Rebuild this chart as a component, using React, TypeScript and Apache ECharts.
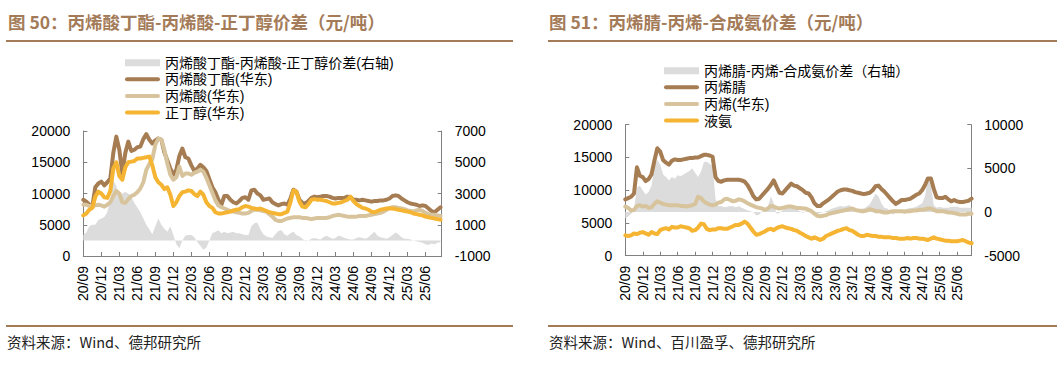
import React, { useEffect, useRef } from 'react';
import * as echarts from 'echarts';

// x tick labels (quarterly, starting 2020-09)
const X_LABELS = ['20/09', '20/12', '21/03', '21/06', '21/09', '21/12', '22/03', '22/06', '22/09', '22/12', '23/03', '23/06', '23/09', '23/12', '24/03', '24/06', '24/09', '24/12', '25/03', '25/06'];
// sampling step: half a month, in months since 2020-09
const STEP = 0.5;

// ---- Chart 50 ----
const baPrice = [
  9000, 8700, 8200, 7900, 11000, 11600, 11900, 11300, 11800, 12400,
  16500, 19100, 17000, 13200, 16500, 18300, 16800, 17000, 17400, 17500,
  18700, 19500, 18600, 18000, 18500, 18800, 18600, 16600, 15300, 14000,
  13000, 13800, 16000, 17200, 15800, 15600, 14500, 13600, 14000, 14600,
  14200, 13600, 12300, 11000, 10200, 9000, 8200, 9600, 9600, 9000,
  8600, 8400, 8800, 9300, 9400, 9000, 10500, 10600, 10000, 9700,
  9000, 9100, 9200, 8600, 8300, 8100, 8300, 8400, 8200, 9200,
  10600, 10300, 9000, 8500, 8400, 8800, 9300, 9500, 9400, 9500,
  9600, 9600, 9500, 9300, 9200, 9300, 9300, 9300, 9500, 9400,
  9000, 9000, 8900, 9000, 8900, 8800, 8700, 8800, 8800, 8900,
  8900, 9000, 9200, 9600, 9700, 9600, 9200, 8900, 8600, 8400,
  8300, 8200, 8000, 8100, 8000, 7600, 7200, 7000, 7400, 7800,
];
const aaPrice = [
  8200, 8200, 8000, 8000, 8100, 8200, 8100, 7900, 8200, 8600,
  9600, 10400, 10000, 8600, 8500, 9100, 9600, 9800, 10200, 10800,
  11800, 13800, 14700, 15500, 17800, 18800, 18600, 17000, 14800, 13000,
  12200, 12600, 14300, 12800, 13200, 13200, 13000, 13300, 13500, 13800,
  13500, 12500, 11300, 10100, 8900, 8100, 7800, 7600, 7400, 7200,
  7100, 7000, 6900, 6800, 6800, 6900, 7200, 7400, 7400, 7300,
  7200, 7100, 6700, 6300, 5800, 5600, 5600, 5800, 6000, 6100,
  6200, 6200, 6200, 6100, 6100, 6000, 5900, 6000, 6100, 6100,
  6100, 6100, 6200, 6400, 6500, 6600, 6500, 6400, 6300, 6300,
  6300, 6300, 6400, 6400, 6400, 6500, 6600, 6700, 6800, 6900,
  7100, 7400, 7700, 7800, 7800, 7700, 7600, 7500, 7300, 7200,
  7100, 7300, 7400, 7200, 6900, 6700, 6600, 6600, 6500, 6400,
];
const nbaPrice = [
  6500, 6800, 7400, 7700, 9500, 10300, 10000, 9400, 9300, 10400,
  14000, 15000, 12800, 12200, 14200, 15000, 15100, 15200, 15600, 15600,
  15700, 15800, 15900, 14500, 12600, 11800, 11400, 10700, 11000, 9800,
  8000, 8600, 9600, 10200, 10300, 10500, 10400, 9900, 9600, 10300,
  9800, 8600, 8000, 7700, 7000, 6800, 6800, 6900, 7000, 7100,
  7300, 7400, 7500, 7800, 8000, 7900, 7700, 7600, 7500, 7600,
  7400, 7200, 7000, 6900, 6800, 6700, 6700, 6900, 7100, 8600,
  10500, 10300, 8700, 7900, 7800, 8300, 9000, 9100, 9000, 9000,
  8900, 8800, 8600, 8400, 8400, 8500, 8600, 8800, 9000, 9500,
  8800, 8300, 8000, 7700, 7600, 7400, 7100, 7000, 7200, 7400,
  7500, 7600, 7600, 7600, 7500, 7400, 7300, 7200, 7100, 7000,
  6800, 6700, 6600, 6500, 6300, 6200, 6100, 6000, 5900, 5800,
];
const baSpread = [
  340, 500, 900, 1000, 1000, 1300, 1400, 1500, 1800, 2600,
  3800, 3500, 2600, 3000, 3100, 3000, 2800, 2400, 2100, 1800,
  1400, 1000, 700, 400, 900, 1400, 1000, 750, 550, 900,
  350, -250, -500, 0, 300, 350, 350, 200, -100, -350,
  -600, -450, 0, 450, 550, 650, 450, 550, 450, 500,
  550, 450, 450, 400, 350, 350, 900, 1100, 1150, 700,
  400, 250, 200, 150, 400, 600, 650, 400, 300, 450,
  550, 350, 250, 100, -50, 0, 100, 150, 100, 50,
  200, 300, 200, 100, 150, 300, 250, 150, 100, 50,
  50, 150, 200, 150, 100, 200, 400, 550, 300, 200,
  150, 100, 200, 350, 500, 400, 200, 100, 100, 50,
  0, -50, -100, -150, -250, -300, -200, -250, -150, -100,
];

// ---- Chart 51 ----
const anPrice = [
  8600, 8800, 9000, 9500, 13500, 12200, 12000, 11400, 11700, 12400,
  14500, 16400, 15900, 14600, 14200, 13900, 14500, 14700, 14600, 14600,
  14700, 14800, 14900, 14900, 15000, 15000, 15200, 15400, 15400, 15300,
  15100, 12000, 11400, 11300, 11500, 11600, 11600, 11600, 11600, 11600,
  11500, 11300, 10800, 10000, 9100, 8600, 8700, 9200, 9700, 10200,
  10800, 11500, 10500, 9600, 9500, 10000, 10500, 11000, 10700, 10600,
  10300, 10000, 9600, 9500, 8900, 8000, 7600, 7600, 8000, 8300,
  8600, 9000, 9400, 9800, 10000, 10100, 10100, 10000, 9900, 9700,
  9600, 9500, 9400, 9500, 9600, 10000, 10600, 10700, 10200, 9800,
  9300, 8800, 8300, 7900, 8200, 8500, 8500, 8600, 8700, 9000,
  9300, 9500, 10000, 10800, 11800, 11800, 10200, 8900, 8800, 8800,
  9000, 8600, 8300, 8500, 8300, 8200, 8200, 8300, 8400, 8700,
];
const propPrice = [
  7500, 7300, 6900, 7000, 7600, 7700, 7500, 7600, 7300, 7400,
  7900, 8300, 8100, 7900, 7800, 7700, 7700, 7700, 7700, 7600,
  7600, 7500, 7600, 7700, 7900, 9000, 8800, 8300, 8000, 7800,
  7700, 7800, 8100, 8200, 8600, 8700, 8500, 8300, 8400, 8600,
  8500, 8300, 8000, 7800, 7600, 7400, 7300, 7200, 7000, 7200,
  7600, 7500, 7300, 7200, 7300, 7400, 7500, 7500, 7400, 7300,
  7300, 7200, 7200, 7000, 6800, 6400, 6100, 6000, 6100, 6200,
  6400, 6500, 6600, 6700, 6800, 6900, 7000, 7100, 7200, 7000,
  6900, 6800, 6800, 6900, 7100, 7000, 6800, 6800, 6700, 6600,
  6600, 6700, 6800, 6800, 6800, 6800, 6700, 6800, 6800, 6900,
  6900, 7000, 7000, 7100, 7200, 7200, 7000, 6800, 6800, 6800,
  6700, 6600, 6600, 6500, 6400, 6300, 6300, 6300, 6400, 6400,
];
const ammoniaPrice = [
  3100, 3000, 3100, 3400, 3300, 3500, 3600, 3400, 3200, 3600,
  3400, 3300, 3900, 4100, 4200, 4000, 4400, 4300, 4300, 4500,
  4400, 4300, 4200, 3800, 3900, 4300, 4900, 4800, 4100, 3900,
  4000, 4000, 4200, 4200, 4100, 4100, 4300, 4500, 4700, 4700,
  4900, 5200, 4900, 4300, 3700, 3200, 3300, 3500, 3700, 4000,
  4100, 3900, 4200, 4400, 4500, 4300, 4200, 4100, 3900, 3800,
  3500, 3300, 3000, 2800, 2600, 2800, 2600, 2400, 2600, 3000,
  3200, 3400, 3600, 3800, 3900, 4100, 4200, 3900, 3800, 3500,
  3200, 3000, 3000, 3200, 3100, 3000, 3000, 2900, 2900, 2800,
  2800, 2800, 2700, 2700, 2600, 2600, 2600, 2700, 2600, 2700,
  2700, 2600, 2600, 2500, 2400, 2600, 2800, 2600, 2500, 2400,
  2300, 2300, 2200, 2200, 2200, 2300, 2400, 2200, 2000, 1900,
];
const anSpread = [
  -700, -500, -200, 300, 2800, 3000, 2500, 2000, 2300, 3000,
  5200, 6000, 5400, 4300, 4000, 3600, 4000, 3800, 4200, 4100,
  4300, 4500, 4700, 5000, 4500, 4000, 4600, 5700, 5800, 5500,
  5300, 1500, 650, 700, 550, 600, 700, 650, 550, 650,
  500, 350, 200, 100, 0, -400, -300, 100, 300, 600,
  1800, 1000, -200, -100, 200, 500, 700, 800, 500, 300,
  100, -100, 100, 200, -100, -300, -200, -100, 0, 100,
  200, 400, 500, 600, 700, 600, 700, 800, 500, 400,
  300, 400, 400, 600, 900, 1500, 2100, 1800, 1000, 500,
  400, 100, -300, 0, 200, 300, 300, 400, 450, 500,
  600, 800, 1000, 1800, 3900, 3000, 800, 500, 600, 500,
  500, 500, 600, 600, 600, 500, 500, 500, 500, 500,
];

const TITLE_LEFT = '图 50：丙烯酸丁酯-丙烯酸-正丁醇价差（元/吨）';
const TITLE_RIGHT = '图 51：丙烯腈-丙烯-合成氨价差（元/吨）';
const SOURCE_LEFT = '资料来源：Wind、德邦研究所';
const SOURCE_RIGHT = '资料来源：Wind、百川盈孚、德邦研究所';

const C_BROWN = '#a67c52';
const C_TAN = '#d8c49c';
const C_ORANGE = '#f5b431';
const C_GRAY = '#dcdcdc';
const C_TITLE = '#a47b58';
const C_AXIS = '#808080';
const NUM_FONT = '"Liberation Sans", Arial, sans-serif';
const CJK_FONT = '"Noto Sans CJK SC", sans-serif';
const LEGEND_FONT = '"Liberation Sans", "Noto Sans CJK SC", sans-serif';
const LINE_ICON = 'path://M2,0 L33,0 A2,2 0 0 1 33,4 L2,4 A2,2 0 0 1 2,0 Z';

const toXY = (arr: number[]) => arr.map((v, i) => [i * STEP, v]);

function xAxisOf(gridIndex: number, max: number) {
  return {
    type: 'value', gridIndex, min: 0, max, interval: 3,
    axisLine: { show: true, onZero: false, lineStyle: { color: C_AXIS, width: 1 } },
    axisTick: { show: true, inside: true, length: 4, lineStyle: { color: C_AXIS } },
    splitLine: { show: false },
    axisLabel: {
      rotate: 90, margin: 10, fontSize: 14, color: '#000', fontFamily: NUM_FONT,
      formatter: (v: number) => {
        const k = Math.round(v / 3);
        return Math.abs(v - k * 3) < 1e-6 && X_LABELS[k] ? X_LABELS[k] : '';
      },
    },
  };
}
function yAxisOf(gridIndex: number, position: string, min: number, max: number, interval: number) {
  return {
    type: 'value', gridIndex, position, min, max, interval,
    axisLine: { show: true, lineStyle: { color: C_AXIS, width: 1 } },
    axisTick: { show: true, inside: true, length: 4, lineStyle: { color: C_AXIS } },
    splitLine: { show: false },
    axisLabel: { margin: 13, fontSize: 14, color: '#000', fontFamily: NUM_FONT, formatter: (v: number) => String(v) },
  };
}
function lineSeries(name: string, data: number[], color: string, xAxisIndex: number, yAxisIndex: number) {
  return {
    type: 'line', name, data: toXY(data), xAxisIndex, yAxisIndex,
    symbol: 'none', showSymbol: false, color,
    lineStyle: { color, width: 4, cap: 'round', join: 'round' },
  };
}
function areaSeries(name: string, data: number[], xAxisIndex: number, yAxisIndex: number) {
  return {
    type: 'line', name, data: toXY(data), xAxisIndex, yAxisIndex,
    symbol: 'none', showSymbol: false, color: C_GRAY,
    lineStyle: { width: 0, color: C_GRAY },
    areaStyle: { color: C_GRAY, opacity: 1, origin: 0 },
  };
}
function legendOf(left: number, top: number, names: string[], colors: string[]) {
  return {
    orient: 'vertical', left, top, padding: 0, itemWidth: 35, itemHeight: 7, itemGap: 0,
    textStyle: { fontSize: 14, lineHeight: 16.6, color: '#000', fontFamily: LEGEND_FONT },
    data: names.map((n, i) => (i === 0
      ? { name: n, icon: 'rect', itemStyle: { color: colors[i] } }
      : { name: n, icon: LINE_ICON, itemStyle: { color: colors[i] } })),
  };
}

export default function App() {
  const ref = useRef<HTMLDivElement>(null);
  useEffect(() => {
    if (!ref.current) return;
    const chart = echarts.init(ref.current, undefined, { renderer: 'svg' });
    const L = ['丙烯酸丁酯-丙烯酸-正丁醇价差(右轴)', '丙烯酸丁酯(华东)', '丙烯酸(华东)', '正丁醇(华东)'];
    const R = ['丙烯腈-丙烯-合成氨价差（右轴）', '丙烯腈', '丙烯(华东)', '液氨'];
    const COLS = [C_GRAY, C_BROWN, C_TAN, C_ORANGE];
    chart.setOption({
      animation: false,
      backgroundColor: '#fff',
      grid: [
        { left: 83.3, top: 131, width: 358.4, height: 125 },
        { left: 625.3, top: 124.7, width: 346, height: 131 },
      ],
      xAxis: [xAxisOf(0, 59.7), xAxisOf(1, 59.45)],
      yAxis: [
        yAxisOf(0, 'left', 0, 20000, 5000),
        yAxisOf(0, 'right', -1000, 7000, 2000),
        yAxisOf(1, 'left', 0, 20000, 5000),
        yAxisOf(1, 'right', -5000, 10000, 5000),
      ],
      legend: [legendOf(125, 54.4, L, COLS), legendOf(664, 62.4, R, COLS)],
      series: [
        areaSeries(L[0], baSpread, 0, 1),
        lineSeries(L[1], baPrice, C_BROWN, 0, 0),
        lineSeries(L[2], aaPrice, C_TAN, 0, 0),
        lineSeries(L[3], nbaPrice, C_ORANGE, 0, 0),
        areaSeries(R[0], anSpread, 1, 3),
        lineSeries(R[1], anPrice, C_BROWN, 1, 2),
        lineSeries(R[2], propPrice, C_TAN, 1, 2),
        lineSeries(R[3], ammoniaPrice, C_ORANGE, 1, 2),
      ],
      graphic: [
        { type: 'text', left: 8, top: 13, style: { text: TITLE_LEFT, fontSize: 17.5, fontWeight: 'bold', fill: C_TITLE, fontFamily: CJK_FONT } },
        { type: 'text', left: 549, top: 13, style: { text: TITLE_RIGHT, fontSize: 17.5, fontWeight: 'bold', fill: C_TITLE, fontFamily: CJK_FONT } },
        { type: 'line', shape: { x1: 6, y1: 41, x2: 513, y2: 41 }, style: { stroke: C_TITLE, lineWidth: 2 } },
        { type: 'line', shape: { x1: 548, y1: 41, x2: 1057, y2: 41 }, style: { stroke: C_TITLE, lineWidth: 2 } },
        { type: 'line', shape: { x1: 6, y1: 326, x2: 513, y2: 326 }, style: { stroke: C_TITLE, lineWidth: 2 } },
        { type: 'line', shape: { x1: 548, y1: 326, x2: 1057, y2: 326 }, style: { stroke: C_TITLE, lineWidth: 2 } },
        { type: 'text', left: 7, top: 334, style: { text: SOURCE_LEFT, fontSize: 14.5, fill: '#222', fontFamily: CJK_FONT } },
        { type: 'text', left: 549, top: 334, style: { text: SOURCE_RIGHT, fontSize: 14.5, fill: '#222', fontFamily: CJK_FONT } },
      ],
    });
    return () => chart.dispose();
  }, []);
  return <div ref={ref} style={{ position: 'fixed', left: 0, top: 0, width: 1063, height: 367, background: '#fff' }} />;
}
